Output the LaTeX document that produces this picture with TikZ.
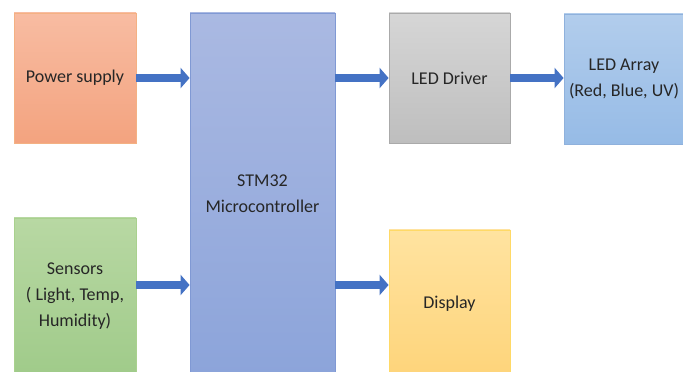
\documentclass[tikz,border=0pt]{standalone}
\usepackage{fontspec}
\setmainfont{Carlito}
\usepackage{tikz}
\usepackage{xcolor}
\usetikzlibrary{arrows.meta}

\definecolor{arrowblue}{RGB}{68,114,196}
\definecolor{txtgray}{RGB}{38,38,38}

\begin{document}
\begin{tikzpicture}[x=1pt,y=1pt,
  block/.style={draw, line width=0.8pt, inner sep=0pt, align=center,
    text=txtgray, font=\fontsize{18}{26}\selectfont},
  flow/.style={draw=arrowblue, line width=8pt, -{Triangle[length=9pt,width=20pt]}, arrowblue}]
  \clip (0,0) rectangle (683,372);
  % left column
  \node[block, draw={rgb,255:red,244;green,177;blue,131}, top color={rgb,255:red,248;green,188;blue,162},
    bottom color={rgb,255:red,243;green,163;blue,127}, minimum width=122pt, minimum height=130pt]
    (pwr) at (75,294) {Power supply};
  \node[block, draw={rgb,255:red,169;green,209;blue,142}, top color={rgb,255:red,184;green,216;blue,163},
    bottom color={rgb,255:red,160;green,203;blue,138}, minimum width=122pt, minimum height=156pt]
    (sens) at (75,76) {Sensors\\( Light, Temp,\\Humidity)};
  % controller
  \node[block, draw={rgb,255:red,128;green,153;blue,212}, top color={rgb,255:red,170;green,185;blue,226},
    bottom color={rgb,255:red,140;green,164;blue,218}, minimum width=145pt, minimum height=362pt]
    (stm) at (262.5,178) {STM32\\Microcontroller};
  % outputs
  \node[block, draw={rgb,255:red,170;green,170;blue,170}, top color={rgb,255:red,214;green,214;blue,214},
    bottom color={rgb,255:red,190;green,190;blue,190}, minimum width=121pt, minimum height=130pt]
    (drv) at (449.5,294) {LED Driver};
  \node[block, draw={rgb,255:red,143;green,177;blue,220}, top color={rgb,255:red,178;green,205;blue,236},
    bottom color={rgb,255:red,150;green,187;blue,230}, minimum width=120pt, minimum height=130pt]
    (arr) at (624,293) {LED Array\\(Red, Blue, UV)};
  \node[block, draw={rgb,255:red,255;green,217;blue,102}, top color={rgb,255:red,255;green,227;blue,160},
    bottom color={rgb,255:red,254;green,212;blue,122}, minimum width=121pt, minimum height=148pt]
    (disp) at (449.5,68) {Display};
  % arrows
  \draw[flow] (pwr.east) -- (pwr.east -| stm.west);
  \draw[flow] ([yshift=11pt]sens.east) -- ([yshift=11pt]sens.east -| stm.west);
  \draw[flow] (stm.east |- drv.west) -- (drv.west);
  \draw[flow] (drv.east) -- (drv.east -| arr.west);
  \draw[flow] ([yshift=19pt]disp.west -| stm.east) -- ([yshift=19pt]disp.west);
\end{tikzpicture}
\end{document}
